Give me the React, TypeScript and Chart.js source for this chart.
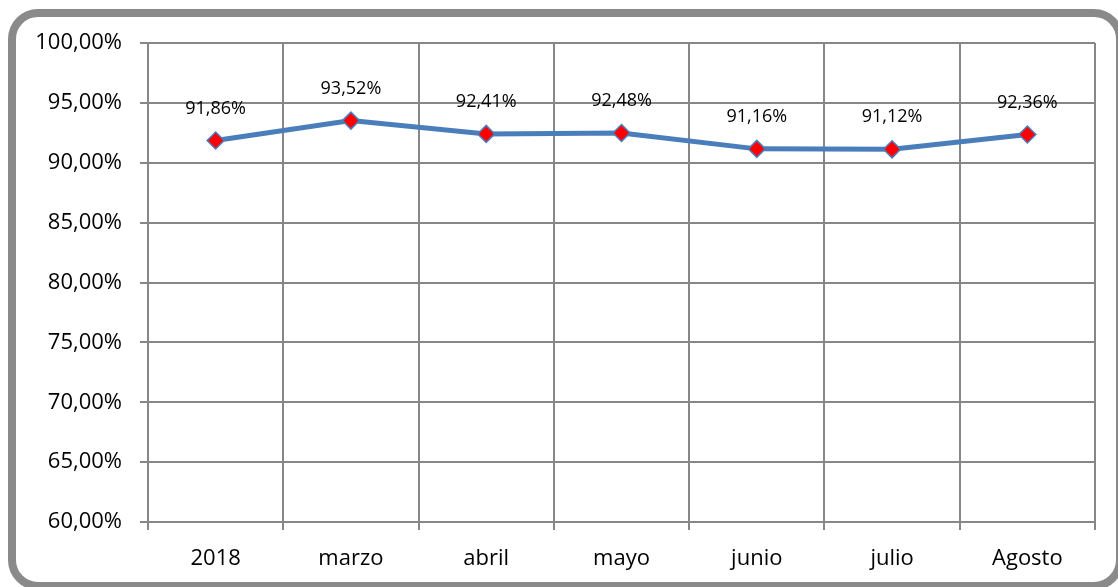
import React, { useEffect, useRef } from "react";
import { Chart, registerables } from "chart.js";

Chart.register(...registerables);

const categories = ["2018", "marzo", "abril", "mayo", "junio", "julio", "Agosto"];
const values = [91.86, 93.52, 92.41, 92.48, 91.16, 91.12, 92.36];
const yMin = 60;
const yMax = 100;
const yStep = 5;

const fmt = (v: number) => v.toFixed(2).replace(".", ",") + "%";

const FONT = "'Open Sans', 'Noto Sans', sans-serif";
const GRID = "#878787";
const LINE = "#4a7ebb";

const dataLabels = {
  id: "dataLabels",
  afterDatasetsDraw(chart: any) {
    const ctx = chart.ctx;
    const meta = chart.getDatasetMeta(0);
    ctx.save();
    ctx.font = `18px ${FONT}`;
    ctx.fillStyle = "#000";
    ctx.textAlign = "center";
    ctx.textBaseline = "middle";
    meta.data.forEach((pt: any, i: number) => {
      const v = chart.data.datasets[0].data[i] as number;
      ctx.fillText(fmt(v), pt.x, pt.y - 32);
    });
    ctx.restore();
  },
};

export default function App() {
  const ref = useRef<HTMLCanvasElement>(null);

  useEffect(() => {
    if (!ref.current) return;
    const chart = new Chart(ref.current, {
      type: "line",
      data: {
        labels: categories,
        datasets: [
          {
            data: values,
            borderColor: LINE,
            borderWidth: 5,
            tension: 0,
            pointStyle: "rectRot",
            pointRadius: 8.5,
            pointBackgroundColor: "#ff0000",
            pointBorderColor: LINE,
            pointBorderWidth: 1.5,
          },
        ],
      },
      options: {
        responsive: false,
        animation: false,
        layout: { padding: { top: 43, right: 23, left: 0, bottom: 0 } },
        plugins: {
          legend: { display: false },
          tooltip: { enabled: false },
        },
        scales: {
          x: {
            offset: true,
            grid: {
              offset: true,
              color: GRID,
              lineWidth: 2,
              tickLength: 8,
            },
            border: { display: true, color: GRID, width: 2 },
            ticks: {
              color: "#000",
              font: { family: FONT, size: 22 },
              padding: 16,
              maxRotation: 0,
            },
            afterFit: (s: any) => {
              s.height = 65;
            },
          },
          y: {
            min: yMin,
            max: yMax,
            grid: {
              color: GRID,
              lineWidth: 2,
              tickLength: 8,
            },
            border: { display: true, color: GRID, width: 2 },
            ticks: {
              stepSize: yStep,
              color: "#000",
              font: { family: FONT, size: 22 },
              padding: 18,
              callback: (v: any) => fmt(Number(v)),
            },
            afterFit: (s: any) => {
              s.width = 148;
            },
          },
        },
      },
      plugins: [dataLabels],
    });
    return () => chart.destroy();
  }, []);

  return (
    <div
      style={{
        position: "fixed",
        left: 0,
        top: 0,
        width: 1118,
        height: 587,
        background: "#fff",
        overflow: "hidden",
      }}
    >
      <div
        style={{
          position: "absolute",
          left: 8,
          top: 9,
          width: 1100,
          height: 565,
          border: "8px solid #8a8a8a",
          borderRadius: 30,
          boxSizing: "content-box",
        }}
      />
      <canvas
        ref={ref}
        width={1118}
        height={587}
        style={{ position: "absolute", left: 0, top: 0 }}
      />
    </div>
  );
}
